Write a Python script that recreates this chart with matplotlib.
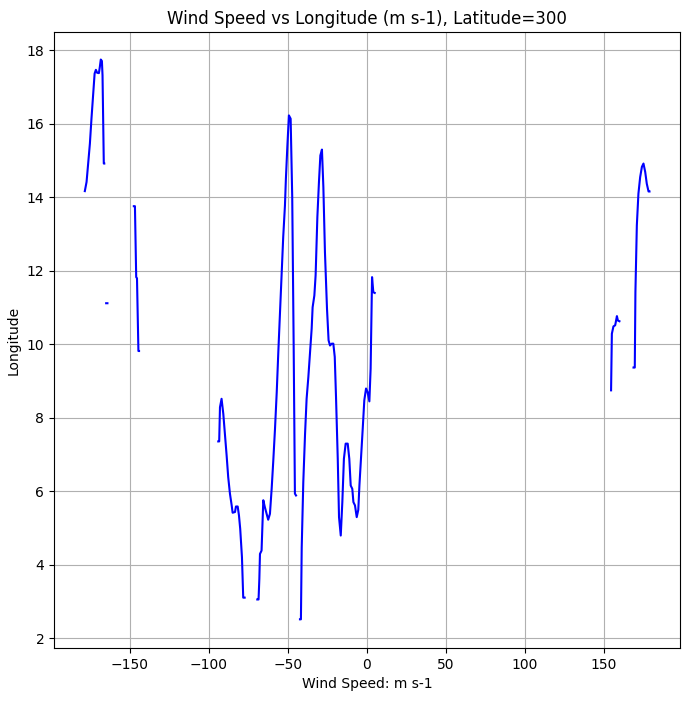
import matplotlib
matplotlib.use("Agg")
import matplotlib.pyplot as plt
import numpy as np

# longitude / wind speed, segments split by missing values (nan)
seg1_lon = [-178.5, -177.4, -176.4, -175.3, -174.3, -173.2, -172.3, -171.5, -170.7, -169.6, -169.0, -168.4, -167.7, -167.3, -166.5, -166.2]
seg1_spd = [14.17, 14.42, 14.92, 15.46, 16.14, 16.84, 17.37, 17.47, 17.39, 17.38, 17.55, 17.75, 17.71, 17.32, 14.92, 14.92]
seg2_lon = [-165.0, -164.2]
seg2_spd = [11.12, 11.12]
seg3_lon = [-147.5, -146.8, -146.0, -145.5, -144.6, -144.2]
seg3_spd = [13.76, 13.76, 11.83, 11.80, 9.82, 9.82]
seg4_lon = [-94.1, -93.5, -93.0, -92.0, -90.9, -89.9, -88.8, -87.8, -86.7, -85.6, -85.0, -83.5, -82.9, -81.8,
            -81.0, -80.2, -79.1, -78.3, -77.4]
seg4_spd = [7.36, 7.36, 8.29, 8.52, 8.11, 7.57, 6.98, 6.39, 5.94, 5.62, 5.42, 5.44, 5.59, 5.59,
            5.35, 4.98, 4.21, 3.11, 3.11]
seg5_lon = [-69.4, -68.6, -68.1, -67.7, -66.7, -65.6, -64.6, -63.5, -62.5, -61.4, -60.3, -59.3, -58.2, -57.1,
            -56.1, -55.1, -54.0, -53.0, -51.9, -51.3, -50.4, -49.4, -48.3, -47.3, -46.4, -45.6, -44.9]
seg5_spd = [3.06, 3.06, 3.62, 4.30, 4.39, 5.76, 5.57, 5.39, 5.23, 5.39, 6.08, 6.82, 7.70, 8.70,
            9.79, 10.79, 11.83, 12.92, 13.78, 14.51, 15.37, 16.23, 16.14, 14.01, 10.02, 5.94, 5.89]
seg6_lon = [-42.4, -41.8, -41.3, -40.3, -39.2, -38.2, -37.1, -36.1, -35.0, -34.4, -33.3, -32.5, -31.4, -30.4,
            -29.5, -28.5, -27.6, -26.6, -25.3, -24.3, -23.4, -22.3, -21.3, -20.4, -19.6, -18.5, -17.7, -16.6,
            -15.6, -14.6, -13.5, -12.2, -11.2, -10.3, -9.3, -8.6, -7.6, -6.5, -5.5, -4.8, -3.8, -2.7, -1.7,
            -0.6, 0.4, 1.5, 2.3, 3.2, 4.0, 4.9]
seg6_spd = [2.52, 2.52, 4.47, 6.25, 7.55, 8.52, 9.11, 9.75, 10.43, 11.01, 11.33, 11.88, 13.46, 14.41,
            15.14, 15.30, 14.28, 12.51, 10.97, 10.11, 9.97, 10.02, 10.02, 9.66, 8.57, 6.89, 5.30, 4.80,
            5.71, 6.89, 7.30, 7.30, 6.89, 6.16, 6.07, 5.71, 5.62, 5.30, 5.50, 6.16, 6.89, 7.71, 8.48,
            8.80, 8.70, 8.45, 9.34, 11.83, 11.42, 11.40]
seg7_lon = [154.4, 154.9, 155.9, 157.0, 157.6, 158.1, 158.7, 159.7]
seg7_spd = [8.75, 10.29, 10.49, 10.52, 10.65, 10.77, 10.65, 10.63]
seg8_lon = [168.6, 169.4, 169.8, 170.7, 171.7, 172.8, 173.9, 174.9, 176.0, 177.0, 178.1, 178.7]
seg8_spd = [9.37, 9.37, 11.42, 13.24, 14.10, 14.55, 14.83, 14.92, 14.69, 14.37, 14.16, 14.16]

segs_lon = [seg1_lon, seg2_lon, seg3_lon, seg4_lon, seg5_lon, seg6_lon, seg7_lon, seg8_lon]
segs_spd = [seg1_spd, seg2_spd, seg3_spd, seg4_spd, seg5_spd, seg6_spd, seg7_spd, seg8_spd]

lon = np.concatenate([np.append(s, np.nan) for s in segs_lon])
spd = np.concatenate([np.append(s, np.nan) for s in segs_spd])

fig = plt.figure(figsize=(6.87, 7.01), dpi=100)
ax = fig.add_axes([0.0786, 0.0756, 0.9112, 0.8788])
ax.plot(lon, spd, color='blue', linewidth=1.5)
ax.set_xlim(-198, 198)
ax.set_ylim(1.74, 18.5)
ax.set_title('Wind Speed vs Longitude (m s-1), Latitude=300')
ax.set_xlabel('Wind Speed: m s-1')
ax.set_ylabel('Longitude')
ax.grid(True)
fig.savefig('out.png', dpi=100)
